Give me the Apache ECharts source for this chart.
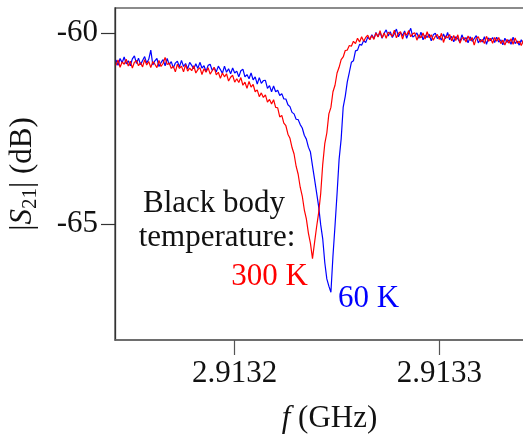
<!DOCTYPE html>
<html>
<head>
<meta charset="utf-8">
<script src="https://cdn.jsdelivr.net/npm/echarts@6/dist/echarts.min.js"></script>
<style>
html,body{margin:0;padding:0;background:#fff;}
#chart{width:523px;height:434px;}
</style>
</head>
<body>
<div id="chart"></div>
<script>
// Sweep grid (GHz)
const freqStartGHz = 2.913142;
const freqStepGHz = 0.000001;

// |S21| (dB), black body temperature 60 K
const s21_60K = [
-60.70,-60.84,-60.66,-60.77,-60.62,-60.80,-60.72,-60.85,-60.67,-60.59,
-60.79,-60.65,-60.82,-60.71,-60.61,-60.78,-60.68,-60.44,-60.83,-60.72,
-60.66,-60.87,-60.77,-60.69,-60.85,-60.66,-60.82,-60.74,-60.91,-60.78,
-60.73,-60.88,-60.71,-60.87,-60.79,-60.93,-60.76,-60.84,-60.93,-60.80,
-60.92,-60.76,-60.91,-60.85,-61.00,-60.84,-60.81,-60.97,-60.90,-61.01,
-60.86,-60.95,-61.05,-60.86,-61.02,-60.93,-61.06,-60.91,-61.04,-60.99,
-61.14,-60.98,-60.94,-61.14,-61.08,-61.19,-61.04,-61.22,-61.14,-61.33,
-61.16,-61.31,-61.24,-61.23,-61.44,-61.37,-61.53,-61.38,-61.53,-61.49,
-61.63,-61.58,-61.72,-61.72,-61.87,-61.92,-62.07,-62.11,-62.25,-62.26,
-62.39,-62.48,-62.67,-62.77,-62.98,-63.11,-63.47,-63.82,-64.17,-64.53,
-65.01,-65.38,-66.00,-66.43,-66.62,-66.78,-65.83,-65.04,-64.20,-63.30,
-62.77,-61.93,-61.65,-61.27,-61.02,-60.76,-60.72,-60.46,-60.44,-60.29,
-60.31,-60.19,-60.24,-60.10,-60.16,-60.04,-60.14,-59.98,-60.09,-59.97,
-60.13,-60.00,-59.91,-60.07,-59.96,-60.11,-60.01,-59.89,-60.09,-59.98,
-60.06,-59.94,-60.13,-59.99,-59.87,-60.10,-60.06,-59.99,-60.13,-59.97,
-60.17,-60.05,-60.11,-60.02,-60.20,-60.04,-60.00,-60.14,-60.08,-60.18,
-60.02,-60.14,-59.98,-60.17,-60.08,-60.22,-60.09,-60.14,-60.23,-60.04,
-60.18,-60.11,-60.25,-60.09,-60.21,-60.14,-60.06,-60.25,-60.16,-60.23,
-60.09,-60.29,-60.12,-60.19,-60.11,-60.24,-60.10,-60.23,-60.17,-60.30,
-60.13,-60.24,-60.17,-60.29,-60.10,-60.27,-60.20,-60.31,-60.17,-60.28
];

// |S21| (dB), black body temperature 300 K
const s21_300K = [
-60.84,-60.70,-60.89,-60.75,-60.81,-60.68,-60.86,-60.73,-60.91,-60.76,
-60.71,-60.85,-60.77,-60.88,-60.69,-60.83,-60.74,-60.90,-60.74,-60.81,
-60.90,-60.71,-60.87,-60.79,-60.63,-60.82,-60.78,-60.92,-60.86,-61.01,
-60.81,-60.92,-60.86,-61.01,-60.82,-60.99,-60.91,-60.98,-60.85,-61.04,
-60.95,-60.90,-61.08,-60.93,-61.02,-60.90,-61.07,-60.98,-60.89,-61.09,
-61.02,-61.18,-61.04,-61.14,-61.06,-61.25,-61.15,-61.10,-61.28,-61.19,
-61.29,-61.16,-61.36,-61.28,-61.44,-61.26,-61.41,-61.34,-61.53,-61.48,
-61.66,-61.56,-61.68,-61.61,-61.80,-61.73,-61.85,-61.74,-61.94,-61.95,
-62.19,-62.15,-62.35,-62.42,-62.64,-62.75,-62.99,-63.16,-63.48,-63.69,
-64.03,-64.26,-64.62,-64.86,-65.23,-65.50,-65.90,-65.48,-65.07,-64.70,
-64.20,-63.43,-62.89,-62.61,-62.11,-61.94,-61.53,-61.36,-61.04,-60.89,
-60.69,-60.62,-60.45,-60.44,-60.32,-60.34,-60.21,-60.27,-60.13,-60.23,
-60.09,-60.21,-60.11,-60.05,-60.17,-60.06,-60.16,-59.99,-60.10,-59.93,
-60.12,-59.99,-60.13,-59.97,-60.02,-60.08,-59.92,-60.12,-60.00,-59.96,
-60.15,-59.98,-60.05,-59.93,-60.09,-60.01,-59.99,-60.18,-60.04,-60.12,
-59.99,-60.15,-59.96,-60.12,-60.04,-60.18,-60.08,-60.03,-60.16,-60.00,
-60.24,-60.07,-60.12,-60.03,-60.20,-60.06,-60.19,-60.04,-60.26,-60.13,
-60.11,-60.23,-60.07,-60.19,-60.11,-60.31,-60.13,-60.09,-60.23,-60.16,
-60.27,-60.08,-60.21,-60.13,-60.26,-60.11,-60.21,-60.11,-60.27,-60.18,
-60.31,-60.16,-60.26,-60.14,-60.29,-60.12,-60.26,-60.21,-60.32,-60.18
];

const xTickValues = [2.9132, 2.9133];
const yTickValues = [-65, -60];
const annotationTitle = ['Black body', 'temperature:'];
const seriesNames = ['60 K', '300 K'];

const FONT = '"Liberation Serif", "Times New Roman", serif';

function pairs(vals) {
  return vals.map((v, i) => [+(freqStartGHz + i * freqStepGHz).toFixed(7), v]);
}

const chart = echarts.init(document.getElementById('chart'), null, {renderer: 'canvas'});
chart.setOption({
  animation: false,
  backgroundColor: '#fff',
  grid: {
    left: 115, top: 8, right: -21, bottom: 94,
    containLabel: false,
    outerBoundsMode: 'none',
    show: true, borderColor: '#666', borderWidth: 1.5, backgroundColor: 'transparent'
  },
  xAxis: {
    type: 'value',
    min: 2.91314152, max: 2.9133511,
    name: '{i|f} (GHz)',
    nameLocation: 'middle',
    nameGap: 63,
    nameTextStyle: {
      fontFamily: FONT, fontSize: 31, color: '#111',
      rich: { i: {fontFamily: FONT, fontSize: 31, fontStyle: 'italic', color: '#111'} }
    },
    axisLine: {show: true, onZero: false, lineStyle: {color: '#666', width: 1.5}},
    axisTick: {show: true, inside: false, length: 15, lineStyle: {color: '#555', width: 1.2}, customValues: xTickValues},
    axisLabel: {
      show: true, margin: 18, fontFamily: FONT, fontSize: 31, color: '#111',
      customValues: xTickValues,
      formatter: v => v.toFixed(4)
    },
    splitLine: {show: false}
  },
  yAxis: {
    type: 'value',
    min: -68.029, max: -59.338,
    name: '|{i|S}{s|21}| (dB)',
    nameLocation: 'middle',
    nameGap: 74,
    nameTextStyle: {
      fontFamily: FONT, fontSize: 31, color: '#111', lineHeight: 36,
      rich: {
        i: {fontFamily: FONT, fontSize: 31, fontStyle: 'italic', color: '#111', lineHeight: 36},
        s: {fontFamily: FONT, fontSize: 21, color: '#111', lineHeight: 20, verticalAlign: 'bottom'}
      }
    },
    axisLine: {show: true, onZero: false, lineStyle: {color: '#333', width: 1.3}},
    axisTick: {show: true, inside: false, length: 14, lineStyle: {color: '#333', width: 1.2}, customValues: yTickValues},
    axisLabel: {
      show: true, margin: 17, fontFamily: FONT, fontSize: 31, color: '#111',
      customValues: yTickValues,
      formatter: v => String(Math.round(v))
    },
    splitLine: {show: false}
  },
  series: [
    {
      name: seriesNames[0], type: 'line', data: pairs(s21_60K),
      showSymbol: false, symbol: 'none', clip: true,
      lineStyle: {color: '#0000ff', width: 1.2}, z: 2
    },
    {
      name: seriesNames[1], type: 'line', data: pairs(s21_300K),
      showSymbol: false, symbol: 'none', clip: true,
      lineStyle: {color: '#ff0000', width: 1.2}, z: 3
    }
  ],
  graphic: [
    {type: 'text', x: 214, y: 204, z: 10, style: {text: annotationTitle[0], font: '31px ' + FONT, fill: '#111', align: 'center', verticalAlign: 'middle'}},
    {type: 'text', x: 217, y: 238, z: 10, style: {text: annotationTitle[1], font: '31px ' + FONT, fill: '#111', align: 'center', verticalAlign: 'middle'}},
    {type: 'text', x: 308, y: 277, z: 10, style: {text: seriesNames[1], font: '31px ' + FONT, fill: '#ff0000', align: 'right', verticalAlign: 'middle'}},
    {type: 'text', x: 338, y: 299, z: 10, style: {text: seriesNames[0], font: '31px ' + FONT, fill: '#0000ff', align: 'left', verticalAlign: 'middle'}}
  ]
});
</script>
</body>
</html>
